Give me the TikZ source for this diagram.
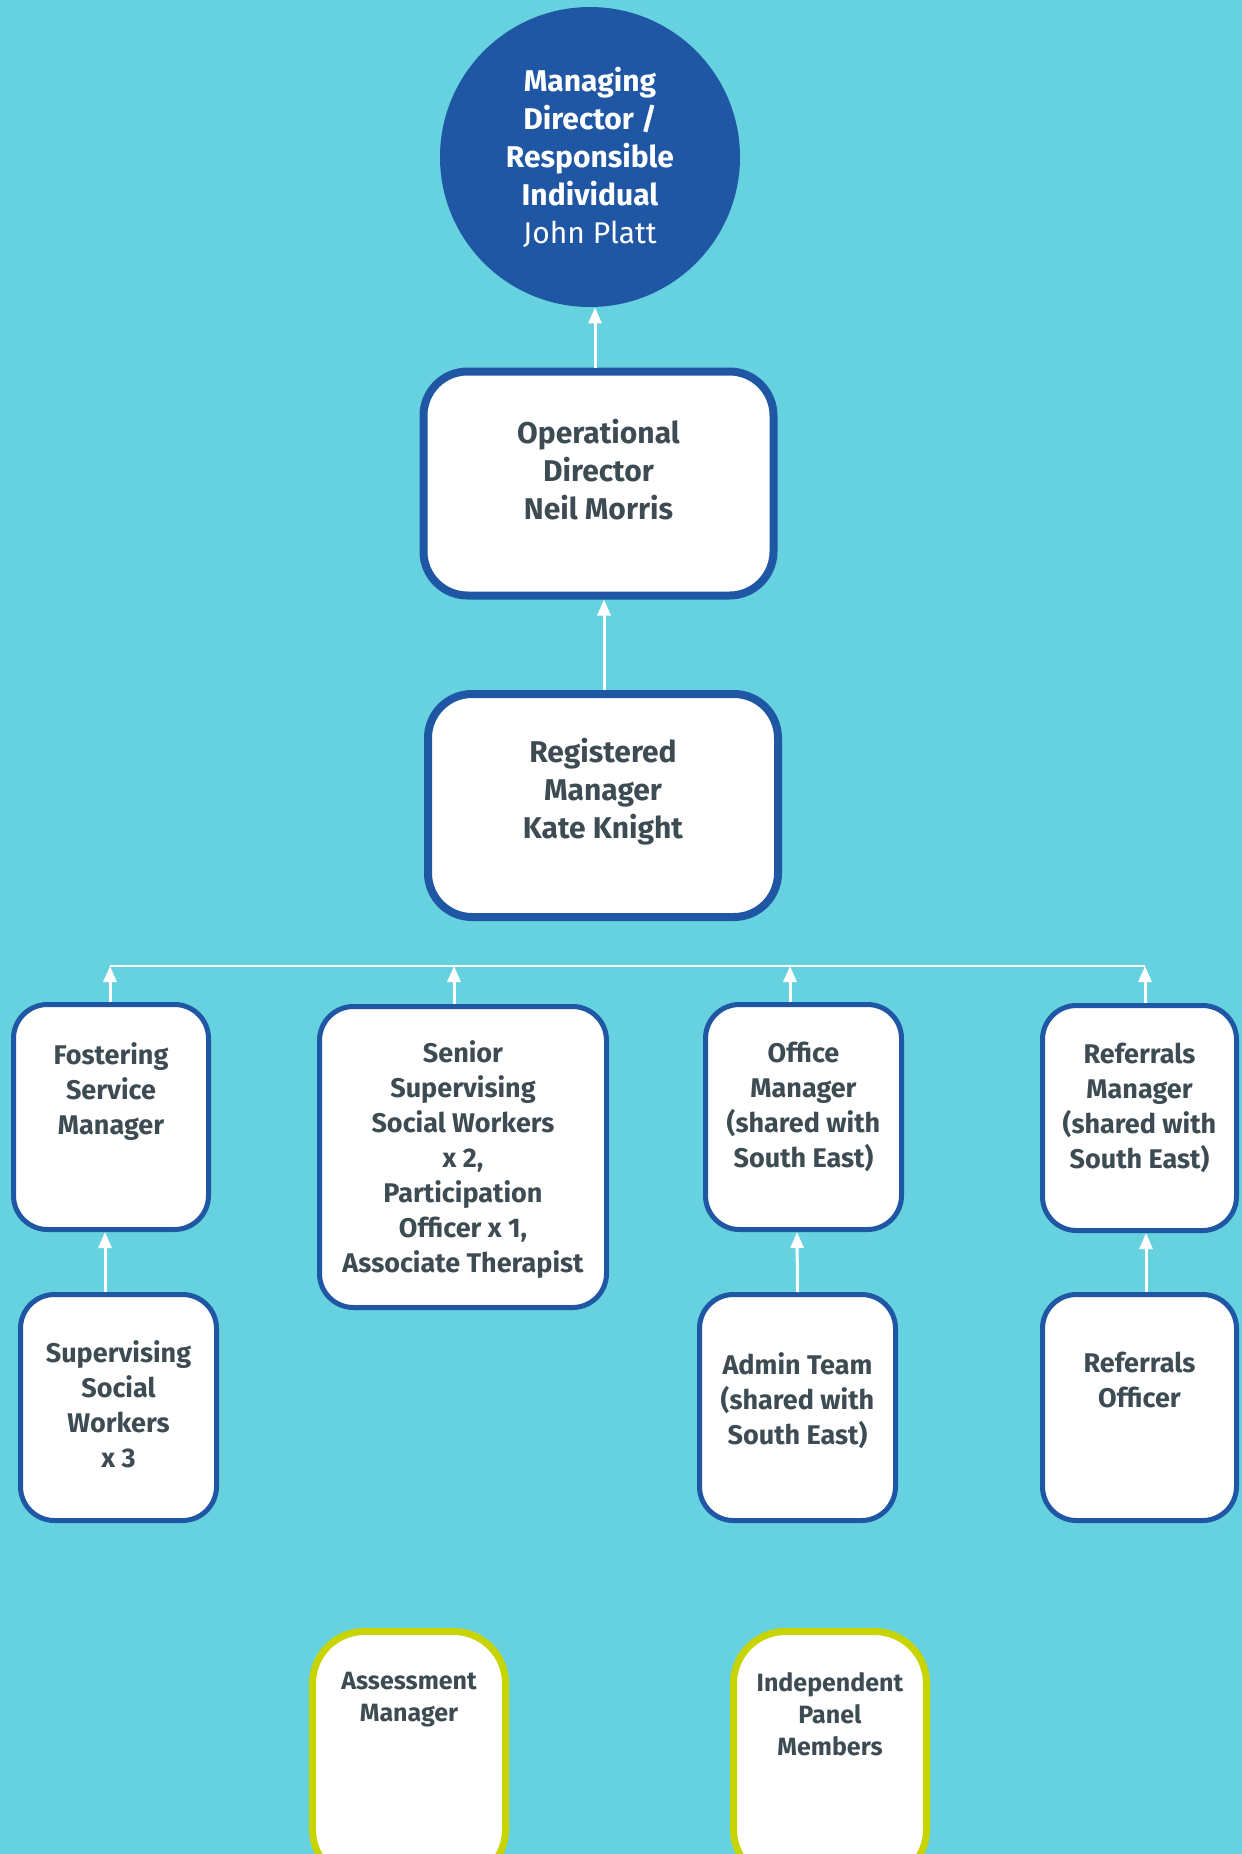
\documentclass[tikz,border=0pt]{standalone}
\usepackage{fontspec}
\setmainfont{Fira Sans}
\usetikzlibrary{arrows.meta}
\definecolor{bgcyan}{HTML}{66D1DF}
\definecolor{mdblue}{HTML}{1F57A5}
\definecolor{txtgrey}{HTML}{3D4B53}
\definecolor{limeedge}{HTML}{C8D400}

\begin{document}
\begin{tikzpicture}[
    x=0.5pt, y=-0.5pt,
    role/.style={rectangle, draw=mdblue, fill=white, line width=2.5pt, rounded corners=17pt, minimum width=98pt, minimum height=112.5pt, inner sep=0pt},
    bigrole/.style={role, line width=4pt, rounded corners=22pt, minimum width=175pt, minimum height=112pt},
    panelrole/.style={role, draw=limeedge, line width=3.5pt, rounded corners=26pt, minimum width=96.5pt, minimum height=125pt},
    txt/.style={inner sep=0pt, align=center, text=txtgrey, font=\bfseries\fontsize{13.5}{17.5}\selectfont, anchor=north, yshift=-#1},
    bigtxt/.style={txt=#1, font=\bfseries\fontsize{15}{19}\selectfont},
    smalltxt/.style={txt=#1, font=\bfseries\fontsize{12.5}{16}\selectfont},
    arrow/.style={-{Triangle[length=8pt, width=6.5pt]}, line width=1.5pt, white},
    busline/.style={line width=1pt, white}
]
\useasboundingbox (0,0) rectangle (1242,1854);
\clip (0,0) rectangle (1242,1854);
\fill[bgcyan] (0,0) rectangle (1242,1854);

% top of the chart
\node[circle, fill=mdblue, minimum size=150pt, inner sep=0pt, text=white, align=center,
      font=\bfseries\fontsize{15}{19}\selectfont] (md) at (590,157)
      {Managing\\Director /\\Responsible\\Individual\\{\mdseries John Platt}};
\node[bigrole, label={[bigtxt=25.5pt]north:{Operational\\Director\\Neil Morris}}] (opdir) at (598.5,483.5) {};
\node[bigrole, minimum height=111.5pt, label={[bigtxt=24pt]north:{Registered\\Manager\\Kate Knight}}] (regmgr) at (603,805.5) {};

% second row
\node[role, minimum width=97.5pt, label={[txt=20pt]north:{Fostering\\Service\\Manager}}] (foster) at (111,1117) {};
\node[role, minimum width=143.5pt, minimum height=150.5pt, label={[txt=18pt]north:{Senior\\Supervising\\Social Workers\\x 2,\\Participation\\Officer x 1,\\Associate Therapist}}] (senior) at (463,1157) {};
\node[role, label={[txt=20pt]north:{Office\\Manager\\(shared with\\South East)}}] (office) at (803.5,1117) {};
\node[role, minimum width=97pt, label={[txt=20pt]north:{Referrals\\Manager\\(shared with\\South East)}}] (refmgr) at (1139.5,1118) {};

% third row
\node[role, minimum height=113pt, label={[txt=24pt]north:{Supervising\\Social\\Workers\\x 3}}] (supsw) at (118.5,1407.5) {};
\node[role, minimum height=113pt, label={[txt=30pt]north:{Admin Team\\(shared with\\South East)}}] (admin) at (797.5,1407.5) {};
\node[role, minimum width=97pt, minimum height=113pt, label={[txt=30pt]north:{Referrals\\Officer}}] (refoff) at (1139.5,1407.5) {};

% panel row
\node[panelrole, label={[smalltxt=22pt]north:{Assessment\\Manager}}] (assess) at (409,1756.5) {};
\node[panelrole, label={[smalltxt=22pt]north:{Independent\\Panel\\Members}}] (panel) at (830,1756.5) {};

% connectors
\coordinate (busF) at (110,966);
\coordinate (busS) at (454,966);
\coordinate (busO) at (790,966);
\coordinate (busR) at (1145,966);
\draw[busline] (busF) -- (busR);

\draw[arrow] ([xshift=-1.75pt]opdir.north) -- ([xshift=2.5pt]md.south);
\draw[arrow] ([xshift=0.5pt]regmgr.north) -- ([xshift=2.75pt]opdir.south);
\draw[arrow] ([xshift=-0.5pt]foster.north) -- (busF);
\draw[arrow] ([xshift=-4.5pt]senior.north) -- (busS);
\draw[arrow] ([xshift=-6.75pt]office.north) -- (busO);
\draw[arrow] ([xshift=2.75pt]refmgr.north) -- (busR);
\draw[arrow] ([xshift=-6.75pt]supsw.north) -- ([xshift=-3pt]foster.south);
\draw[arrow] (admin.north) -- ([xshift=-3.25pt]office.south);
\draw[arrow] ([xshift=3.25pt]refoff.north) -- ([xshift=3.25pt]refmgr.south);
\end{tikzpicture}
\end{document}
